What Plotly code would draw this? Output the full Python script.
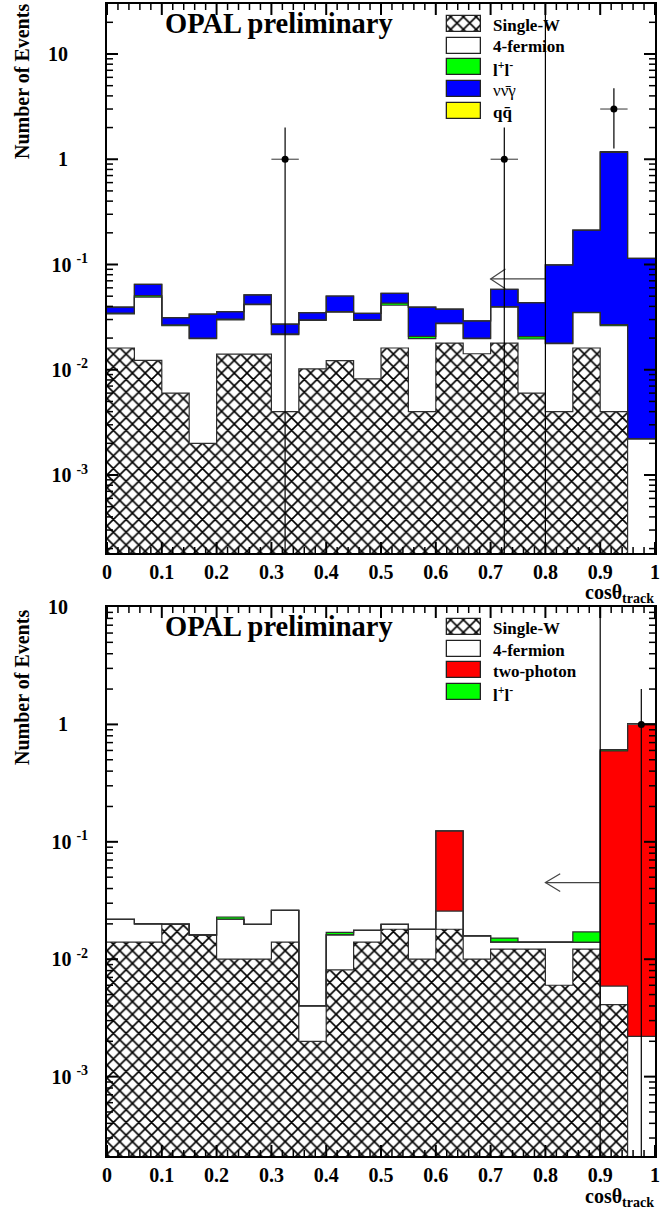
import numpy as np
import plotly.graph_objects as go

# ---------------------------------------------------------------
# Binning in cos(theta_track): 20 bins of width 0.05
# ---------------------------------------------------------------
bin_edges = [round(0.05 * i, 2) for i in range(21)]
bin_width = 0.05

# ---------------------------------------------------------------
# Upper panel: expected events per bin for each process
# ---------------------------------------------------------------
up_single_w = [0.0161, 0.0123, 0.0060, 0.0020, 0.0141, 0.0141, 0.0040, 0.0102, 0.0122, 0.0082,
               0.0161, 0.0040, 0.0179, 0.0142, 0.0179, 0.0060, 0.0040, 0.0161, 0.0040, 0.0]
up_four_fermion = [0.0179, 0.0367, 0.0202, 0.0178, 0.0157, 0.0274, 0.0176, 0.0193, 0.0231, 0.0213,
                   0.0249, 0.0158, 0.0095, 0.0056, 0.0215, 0.0136, 0.0137, 0.0187, 0.0222, 0.0022]
up_lepton_pair = [0.0005, 0.0016, 0.0005, 0.0002, 0.0005, 0.0005, 0.0003, 0.0003, 0.0004, 0.0003,
                  0.0020, 0.0010, 0.0003, 0.0002, 0.0004, 0.0010, 0.0002, 0.0004, 0.0006, 0.0]
up_nunugamma = [0.0048, 0.0142, 0.0046, 0.0137, 0.0054, 0.0094, 0.0052, 0.0051, 0.0145, 0.0046,
                0.0103, 0.0185, 0.0099, 0.0091, 0.0184, 0.0229, 0.0811, 0.177, 1.133, 0.1124]
up_qqbar = [0.0, 0.0, 0.0, 0.0, 0.0, 0.0, 0.0, 0.0, 0.0, 0.0,
            0.0, 0.0, 0.0, 0.0, 0.0, 0.0, 0.0, 0.0, 0.02, 0.0]
up_data_x = [0.325, 0.725, 0.925]
up_data_n = [1, 1, 3]
up_cut = 0.8
up_arrow_level = 0.073

# ---------------------------------------------------------------
# Lower panel
# ---------------------------------------------------------------
lo_single_w = [0.0140, 0.0140, 0.0198, 0.0160, 0.0100, 0.0100, 0.0140, 0.0020, 0.0081, 0.0140,
               0.0180, 0.0100, 0.0180, 0.0100, 0.0122, 0.0122, 0.0060, 0.0122, 0.0041, 0.0]
lo_four_fermion = [0.0079, 0.0060, 0.0001, 0.0001, 0.0119, 0.0098, 0.0121, 0.0020, 0.0080, 0.0036,
                   0.0018, 0.0080, 0.0077, 0.0058, 0.0018, 0.0018, 0.0080, 0.0017, 0.0018, 0.0022]
lo_two_photon = [0.0, 0.0, 0.0, 0.0, 0.0, 0.0, 0.0, 0.0, 0.0, 0.0,
                 0.0, 0.0, 0.098, 0.0, 0.0, 0.0, 0.0, 0.0, 0.59, 1.0]
lo_lepton_pair = [0.0, 0.0, 0.0, 0.0, 0.0010, 0.0, 0.0, 0.0, 0.0008, 0.0,
                  0.0, 0.0, 0.0, 0.0, 0.0011, 0.0, 0.0, 0.0032, 0.014, 0.015]
lo_data_x = [0.975]
lo_data_n = [1]
lo_cut = 0.9
lo_arrow_level = 0.045

arrow_length = 0.1

# ---------------------------------------------------------------
# Axis ticks
# ---------------------------------------------------------------
x_major_ticks = [round(0.1 * i, 2) for i in range(11)]
x_minor_ticks = [round(0.02 * i, 2) for i in range(51) if i % 5]
y_tick_vals = [1e-3, 1e-2, 1e-1, 1, 10]
NB = "\u00a0"
y_tick_text = ["10 <sup>-3</sup>", "10 <sup>-2</sup>", "10 <sup>-1</sup>", "1" + NB * 4, "10" + NB * 4]
y_minor_vals = [k * 10.0 ** e for e in range(-4, 2) for k in range(2, 10)]

UP_YRANGE = [-3.741, 1.475]
LO_YRANGE = [-3.676, 1.0]

# ---------------------------------------------------------------
# Page geometry
# ---------------------------------------------------------------
W, H = 661, 1209
ML, MR, MT, MB = 107, 6, 4, 53
PW, PH = W - ML - MR, H - MT - MB
UP_TOP, UP_BOT = 4, 553        # pixel rows of the upper frame
LO_TOP, LO_BOT = 607, 1156     # pixel rows of the lower frame
PANEL_H = UP_BOT - UP_TOP


def px2x(px):
    return (px - ML) / PW


def py2y(py):
    return (H - MB - py) / PH


SERIF = "Liberation Serif"
OUTLINE = "#2e2e2e"
HATCH = dict(shape="x", fgcolor="black", bgcolor="white", size=9, solidity=0.33)

fig = go.Figure()
cut_shapes = []


def add_frame_ticks(xa, ya, yrange):
    """Inward-pointing ticks on all four sides of a panel frame, as line segments."""
    y_lo, y_hi = 10 ** yrange[0], 10 ** yrange[1]
    decades_per_px = (yrange[1] - yrange[0]) / PANEL_H
    for x_ticks, y_ticks, length, width in ((x_major_ticks, y_tick_vals, 11, 2.0),
                                             (x_minor_ticks, y_minor_vals, 6, 1.5)):
        up = 10 ** (length * decades_per_px)
        dx = length / PW
        xs, ys = [], []
        for v in x_ticks:
            xs += [v, v, None, v, v, None]
            ys += [y_lo, y_lo * up, None, y_hi, y_hi / up, None]
        for v in y_ticks:
            if y_lo < v < y_hi:
                xs += [0, dx, None, 1, 1 - dx, None]
                ys += [v, v, None, v, v, None]
        fig.add_trace(go.Scatter(x=xs, y=ys, mode="lines", connectgaps=False,
                                 line=dict(color="black", width=width),
                                 xaxis=xa, yaxis=ya, hoverinfo="skip"))


def add_panel(xa, ya, layers, data_x, data_n, cut, arrow_level, head_factor, yrange):
    centers = [e + bin_width / 2 for e in bin_edges[:-1]]
    cum = np.cumsum(np.array([l[0] for l in layers], dtype=float), axis=0)

    # filled stack, highest cumulative first so lower layers sit on top
    for k in reversed(range(len(layers))):
        _, fill, pattern = layers[k]
        marker = dict(color=fill, line=dict(width=0))
        if pattern:
            marker["pattern"] = pattern
        fig.add_trace(go.Bar(x=centers, y=cum[k], width=bin_width, marker=marker,
                             xaxis=xa, yaxis=ya, hoverinfo="skip"))

    # histogram outlines
    for k in reversed(range(len(layers))):
        steps = np.maximum(np.append(cum[k], cum[k][-1]), 1e-7)
        fig.add_trace(go.Scatter(x=bin_edges, y=steps, mode="lines",
                                 line=dict(color=OUTLINE, width=1.2, shape="hv"),
                                 xaxis=xa, yaxis=ya, hoverinfo="skip"))

    # selection cut and arrow
    cut_shapes.append(dict(type="line", xref=xa, yref=ya + " domain", x0=cut, x1=cut, y0=0, y1=1,
                           line=dict(color="black", width=1.2)))
    tip = cut - arrow_length
    head = tip + 0.027
    fig.add_trace(go.Scatter(x=[cut, tip, None, head, tip, head],
                             y=[arrow_level, arrow_level, None,
                                arrow_level * head_factor, arrow_level, arrow_level / head_factor],
                             mode="lines", line=dict(color="#444", width=1.2),
                             xaxis=xa, yaxis=ya, hoverinfo="skip"))

    # data with Poisson errors
    n = np.array(data_n, dtype=float)
    err = np.sqrt(n)
    fig.add_trace(go.Scatter(x=data_x, y=n, mode="markers",
                             marker=dict(color="black", size=7),
                             error_y=dict(type="data", array=err, arrayminus=np.minimum(err, n),
                                          width=0, thickness=1.2, color="black"),
                             error_x=dict(type="constant", value=bin_width / 2, width=0,
                                          thickness=1.2, color="#555"),
                             xaxis=xa, yaxis=ya, hoverinfo="skip"))

    add_frame_ticks(xa, ya, yrange)


add_panel("x", "y",
          [(up_single_w, "white", HATCH),
           (up_four_fermion, "white", None),
           (up_lepton_pair, "#00ff00", None),
           (up_nunugamma, "#0000ff", None),
           (up_qqbar, "#ffff00", None)],
          up_data_x, up_data_n, up_cut, up_arrow_level, 1.24, UP_YRANGE)

add_panel("x2", "y2",
          [(lo_single_w, "white", HATCH),
           (lo_four_fermion, "white", None),
           (lo_two_photon, "#ff0000", None),
           (lo_lepton_pair, "#00ff00", None)],
          lo_data_x, lo_data_n, lo_cut, lo_arrow_level, 1.19, LO_YRANGE)

# ---------------------------------------------------------------
# Legend boxes, drawn on pixel-coordinate overlay axes of each panel
# ---------------------------------------------------------------
BOX_X0, BOX_W, BOX_H, TEXT_X = 447, 34, 16, 491

up_legend = [("Single-W", "white", HATCH, "bold"),
             ("4-fermion", "white", None, "bold"),
             ("l<sup>+</sup>l<sup>-</sup>", "#00ff00", None, "bold"),
             ("\u03bd\u03bd\u0304\u03b3", "#0000ff", None, "normal"),
             ("qq\u0304", "#ffff00", None, "bold")]
up_legend_rows = [23.7, 45.5, 67.3, 89.3, 111.3]

lo_legend = [("Single-W", "white", HATCH, "bold"),
             ("4-fermion", "white", None, "bold"),
             ("two-photon", "#ff0000", None, "bold"),
             ("l<sup>+</sup>l<sup>-</sup>", "#00ff00", None, "bold")]
lo_legend_rows = [626.8, 648.5, 670.2, 692.0]

for entries, rows, xa, ya in ((up_legend, up_legend_rows, "x3", "y3"),
                              (lo_legend, lo_legend_rows, "x4", "y4")):
    for (label, fill, pattern, weight), cy in zip(entries, rows):
        marker = dict(color=fill, line=dict(color="#222", width=1.3))
        if pattern:
            marker["pattern"] = pattern
        fig.add_trace(go.Bar(x=[BOX_X0 + BOX_W / 2], y=[BOX_H], base=[cy - BOX_H / 2],
                             width=[BOX_W], marker=marker, xaxis=xa, yaxis=ya,
                             hoverinfo="skip"))
        fig.add_annotation(x=px2x(TEXT_X), y=py2y(cy + 1.5), xref="paper", yref="paper",
                           text=label, showarrow=False, xanchor="left", yanchor="middle",
                           font=dict(family=SERIF, size=17, color="black", weight=weight))

# ---------------------------------------------------------------
# Titles
# ---------------------------------------------------------------
for cy in (23.5, 626.0):
    fig.add_annotation(x=px2x(279), y=py2y(cy), xref="paper", yref="paper",
                       text="OPAL preliminary", showarrow=False,
                       xanchor="center", yanchor="middle",
                       font=dict(family=SERIF, size=28.5, color="black", weight="bold"))

for cy in (82, 688):
    fig.add_annotation(x=px2x(22), y=py2y(cy), xref="paper", yref="paper",
                       text="Number of Events", showarrow=False, textangle=-90,
                       xanchor="center", yanchor="middle",
                       font=dict(family=SERIF, size=20, color="black", weight="bold"))

for cy in (593, 1197):
    fig.add_annotation(x=px2x(656), y=py2y(cy), xref="paper", yref="paper",
                       text="cos\u03b8<sub>track</sub>", showarrow=False,
                       xanchor="right", yanchor="middle",
                       font=dict(family=SERIF, size=20, color="black", weight="bold"))

# ---------------------------------------------------------------
# Axes
# ---------------------------------------------------------------
tick_font = dict(family=SERIF, size=20, color="black", weight="bold")


def x_axis(anchor):
    return dict(domain=[0, 1], anchor=anchor, range=[0, 1], automargin=False,
                showline=True, linecolor="black", linewidth=1.8, mirror=True,
                ticks="", tickmode="array", tickvals=x_major_ticks,
                ticktext=[f"{v:g}" for v in x_major_ticks],
                tickfont=tick_font, showgrid=False, zeroline=False, fixedrange=True)


def y_axis(anchor, domain, rng):
    return dict(domain=domain, anchor=anchor, type="log", range=rng, automargin=False,
                showline=True, linecolor="black", linewidth=1.8, mirror=True,
                ticks="", tickmode="array", tickvals=y_tick_vals, ticktext=y_tick_text,
                ticklabelstandoff=13,
                tickfont=tick_font, showgrid=False, zeroline=False, fixedrange=True)


def pixel_axis(overlay, rng):
    return dict(overlaying=overlay, range=rng, visible=False, fixedrange=True,
                showgrid=False, zeroline=False)


fig.update_layout(
    template="none",
    width=W, height=H,
    margin=dict(l=ML, r=MR, t=MT, b=MB, pad=0, autoexpand=False),
    paper_bgcolor="white", plot_bgcolor="white",
    barmode="overlay", bargap=0, showlegend=False,
    shapes=cut_shapes,
    xaxis=x_axis("y"),
    yaxis=y_axis("x", [py2y(UP_BOT), 1], UP_YRANGE),
    xaxis2=x_axis("y2"),
    yaxis2=y_axis("x2", [0, py2y(LO_TOP)], LO_YRANGE),
    xaxis3=pixel_axis("x", [ML, W - MR]) | dict(anchor="y3"),
    yaxis3=pixel_axis("y", [UP_BOT, UP_TOP]) | dict(anchor="x3"),
    xaxis4=pixel_axis("x2", [ML, W - MR]) | dict(anchor="y4"),
    yaxis4=pixel_axis("y2", [LO_BOT, LO_TOP]) | dict(anchor="x4"),
)

fig.write_html("out.html")
